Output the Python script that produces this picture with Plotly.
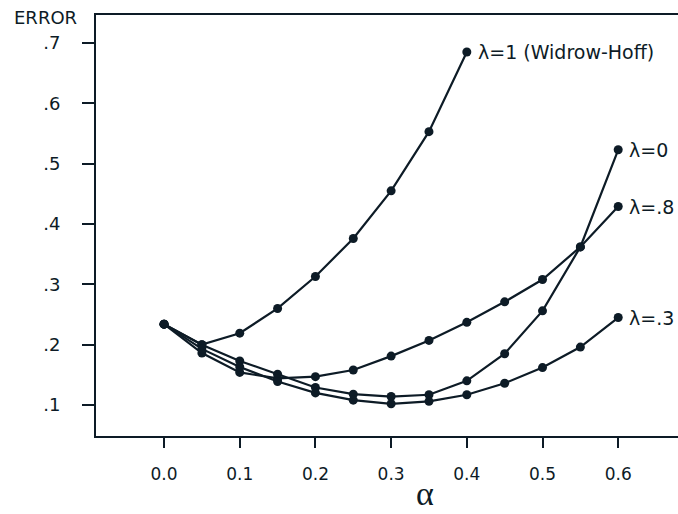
import plotly.graph_objects as go

alpha = [0.0, 0.05, 0.1, 0.15, 0.2, 0.25, 0.3, 0.35, 0.4, 0.45, 0.5, 0.55, 0.6]

err_l1 = [0.234, 0.200, 0.219, 0.260, 0.313, 0.376, 0.455, 0.553, 0.685]
err_l0 = [0.234, 0.200, 0.173, 0.151, 0.129, 0.118, 0.114, 0.117, 0.140, 0.185, 0.256, 0.362, 0.523]
err_l8 = [0.234, 0.186, 0.154, 0.144, 0.147, 0.158, 0.181, 0.207, 0.237, 0.271, 0.308, 0.362, 0.429]
err_l3 = [0.234, 0.193, 0.163, 0.139, 0.120, 0.108, 0.102, 0.106, 0.117, 0.136, 0.162, 0.196, 0.245]

series = [
    ("λ=1 (Widrow-Hoff)", err_l1),
    ("λ=0", err_l0),
    ("λ=.8", err_l8),
    ("λ=.3", err_l3),
]

y_ticks = [0.1, 0.2, 0.3, 0.4, 0.5, 0.6, 0.7]
y_ticktext = [".1", ".2", ".3", ".4", ".5", ".6", ".7"]
x_ticks = [0.0, 0.1, 0.2, 0.3, 0.4, 0.5, 0.6]
x_ticktext = ["0.0", "0.1", "0.2", "0.3", "0.4", "0.5", "0.6"]

ink = "#0d1b26"
font_family = "DejaVu Sans"

fig = go.Figure()
for name, vals in series:
    xs = alpha[:len(vals)]
    fig.add_trace(go.Scatter(
        x=xs, y=vals, mode="lines+markers", name=name,
        line=dict(color=ink, width=2.2),
        marker=dict(color=ink, size=9),
        showlegend=False, cliponaxis=False,
    ))
    fig.add_annotation(
        x=xs[-1], y=vals[-1], text=name, showarrow=False,
        xanchor="left", yanchor="middle", xshift=9,
        font=dict(family=font_family, size=19, color=ink),
    )

fig.add_annotation(
    xref="paper", yref="paper", x=-0.086, y=0.995, text="ERROR",
    showarrow=False, xanchor="center", yanchor="middle",
    font=dict(family=font_family, size=18, color=ink),
)
fig.add_annotation(
    xref="paper", yref="paper", x=0.565, y=-0.1853, text="α",
    showarrow=False, xanchor="center", yanchor="bottom",
    font=dict(family="Liberation Serif", size=34, color=ink),
)

fig.update_layout(
    width=678, height=514,
    margin=dict(l=96, r=0, t=15, b=78),
    paper_bgcolor="white", plot_bgcolor="white",
    xaxis=dict(
        range=[-0.0899, 0.679], tickvals=x_ticks, ticktext=x_ticktext,
        ticks="outside", ticklen=10, tickwidth=2, tickcolor=ink,
        showline=True, linecolor=ink, linewidth=2, mirror=True,
        showgrid=False, zeroline=False, ticklabelstandoff=12,
        tickfont=dict(family=font_family, size=17, color=ink),
    ),
    yaxis=dict(
        range=[0.0486, 0.7464], tickvals=y_ticks, ticktext=y_ticktext,
        ticks="outside", ticklen=12, tickwidth=2, tickcolor=ink,
        showline=True, linecolor=ink, linewidth=2,
        showgrid=False, zeroline=False, ticklabelstandoff=18,
        tickfont=dict(family=font_family, size=18, color=ink),
    ),
)

fig.write_html(
    "out.html",
    config={"displayModeBar": False},
    post_script="document.body.style.margin='0';document.body.style.overflow='hidden';",
)
